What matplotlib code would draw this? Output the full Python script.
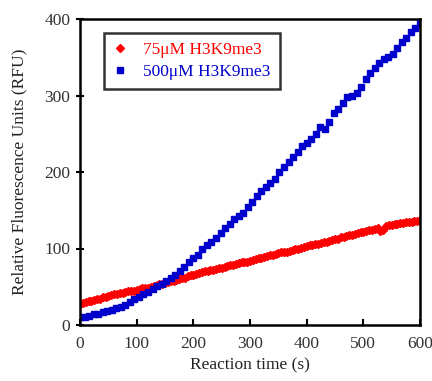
import numpy as np
import matplotlib
matplotlib.use("Agg")
import matplotlib.pyplot as plt

# 75 uM H3K9me3, sampled every 5 s (0..600 s)
red_step = 5
red_vals = [28, 29, 30, 31, 32, 33, 34, 34, 36, 37,
            38, 39, 40, 41, 42, 42, 43, 44, 45, 45,
            46, 47, 48, 49, 49, 50, 51, 52, 53, 54,
            55, 56, 57, 58, 59, 60, 61, 62, 64, 65,
            66, 67, 68, 69, 70, 71, 72, 72, 73, 74,
            75, 76, 77, 78, 79, 80, 81, 82, 83, 83,
            84, 85, 86, 87, 88, 89, 90, 91, 92, 93,
            94, 95, 95, 96, 97, 98, 99, 100, 101, 102,
            103, 104, 105, 106, 106, 107, 108, 109, 110, 111,
            112, 113, 115, 115, 116, 117, 118, 119, 120, 121,
            122, 123, 124, 124, 125, 127, 123, 124, 129, 131,
            131, 132, 132, 133, 133, 134, 135, 135, 136, 136,
            137]

# 500 uM H3K9me3, sampled every 8 s (0..600 s)
blue_step = 8
blue_vals = [10, 11, 12, 14, 15, 17, 18, 20, 22, 24,
             26, 30, 34, 37, 40, 43, 47, 51, 54, 57,
             61, 65, 70, 76, 82, 88, 92, 99, 105, 108,
             114, 120, 127, 132, 138, 143, 147, 154, 161, 168,
             175, 180, 186, 191, 200, 206, 213, 220, 226, 234,
             238, 243, 250, 259, 256, 266, 277, 283, 290, 298,
             300, 303, 311, 322, 329, 336, 342, 348, 350, 354,
             362, 370, 375, 383, 388, 395]

red_t = np.arange(len(red_vals)) * red_step
blue_t = np.arange(len(blue_vals)) * blue_step

xticks = [0, 100, 200, 300, 400, 500, 600]
yticks = [0, 100, 200, 300, 400]

plt.rcParams['font.family'] = ['Liberation Serif', 'DejaVu Serif']

fig = plt.figure(figsize=(4.32, 3.81), dpi=100)
ax = fig.add_axes([80/432, 1 - 325/381, 340/432, 306/381])

ax.plot(red_t, red_vals, linestyle='none', marker='D', ms=4, color='#ff0000',
        mec='#ff0000', label='75μM H3K9me3')
ax.plot(blue_t, blue_vals, linestyle='none', marker='s', ms=4.5, color='#0000cc',
        mec='#0000cc', label='500μM H3K9me3')

ax.set_xlim(0, 600)
ax.set_ylim(0, 400)
ax.set_xticks(xticks)
ax.set_yticks(yticks)
ax.tick_params(axis='x', direction='in', length=4, width=1.5, labelsize=12.5,
               labelcolor='#333333', pad=8)
ax.tick_params(axis='y', direction='inout', length=6, width=1.5, labelsize=12.5,
               labelcolor='#333333', pad=4)
for s in ax.spines.values():
    s.set_linewidth(1.8)

ax.set_xlabel('Reaction time (s)', fontsize=12.5, color='#222222', labelpad=4)
ax.set_ylabel('Relative Fluorescence Units (RFU)', fontsize=12.5, color='#222222', labelpad=12)

leg = ax.legend(loc='upper left', bbox_to_anchor=(0.07, 0.955), fontsize=12.5,
                frameon=True, fancybox=False, handlelength=0.8, handletextpad=0.9,
                borderpad=0.55, labelspacing=0.3, borderaxespad=0)
leg.get_frame().set_edgecolor('black')
leg.get_frame().set_linewidth(1.8)
for txt, c in zip(leg.get_texts(), ['#ff0000', '#0000cc']):
    txt.set_color(c)

fig.savefig('out.png', dpi=100)
